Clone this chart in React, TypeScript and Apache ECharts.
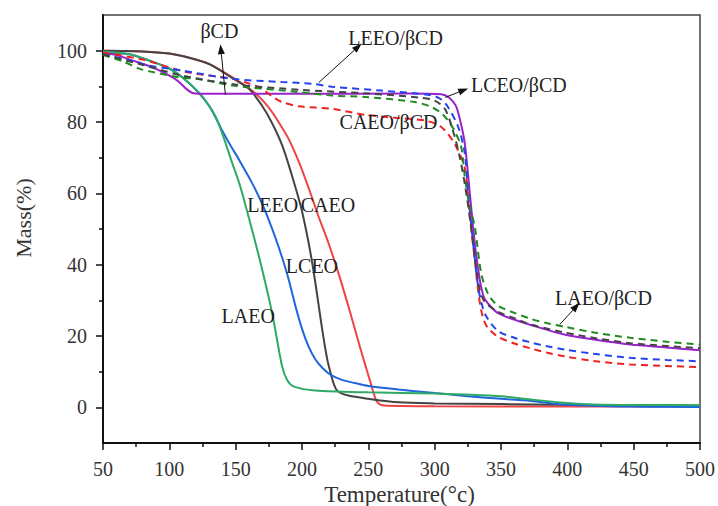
import React, { useEffect, useRef } from "react";
import * as echarts from "echarts";

// ---- data (Temperature °C, Mass %) ----
const caeo: number[][] = [[50,100],[80,99.8],[100,99.2],[115,98],[130,96.3],[147.5,92.5],[165,88],[175,84],[183,79.6],[190,75.2],[198,68.5],[205,61.5],[212,54],[220,46],[228,37],[236,27],[244,16.5],[250,9],[254,4],[257,1.3],[262,0.5],[300,0.3],[400,0.2],[500,0.2]];
const lceo: number[][] = [[50,100],[80,99.8],[100,99.2],[115,98],[130,96.2],[147.5,92.3],[160,89.3],[170,84.5],[177,80],[185,73.5],[192,65.5],[200,55],[207.75,40.4],[215.25,21.8],[219,13.5],[221.5,9.7],[224,6.5],[227,4.5],[235,3.3],[250,2.4],[272.75,1.4],[300,1.1],[350,0.9],[400,0.7],[500,0.5]];
const leeo: number[][] = [[50,99.5],[70,99],[85,97.2],[100,95],[110,92.5],[122.75,88],[130,84.5],[135,81.2],[140,77.5],[146,73.5],[152.75,69.3],[162.5,62.8],[170,57],[175,52.5],[180,47.5],[185,42],[190,35.8],[195,28.5],[200,22],[205,17],[210,13.5],[216,10.8],[222,9],[230,7.7],[240,6.8],[250,6],[272.75,5],[297.75,4.1],[322.75,3.2],[350,2.4],[372.5,1.8],[397.75,0.8],[447.5,0.2],[500,0.1]];
const laeo: number[][] = [[50,99.8],[70,99],[85,97.2],[100,95],[110,92.5],[122.75,88],[135,81.4],[147.5,68.4],[152.75,62.8],[157.75,56.2],[167.75,42],[177.5,26.4],[185,11.5],[189,7.5],[194,5.8],[210,4.7],[250,4.2],[300,3.9],[322.75,3.6],[350,3.1],[372.5,2.2],[397.75,1.3],[420,0.8],[460,0.65],[500,0.6]];
const bcd: number[][] = [[50,99.3],[60,98.8],[72.5,97.2],[80,96.3],[90,94.9],[102.5,92.5],[108,91],[112.75,89.3],[117,88.2],[122,87.9],[200,87.9],[280,88],[305,87.8],[311,86.8],[316,84.5],[319.5,80],[322.75,73.9],[326.5,60],[330.25,46],[334,35.8],[337,31],[340,29.2],[347.75,26.4],[360,24.6],[377.75,22.5],[397.75,20.4],[420,19],[447.5,17.6],[475,16.8],[500,16]];
const leeoBcd: number[][] = [[50,99],[70,97.3],[85,95.8],[110,94.4],[147.5,92.1],[185,91.2],[207.5,90.7],[222.5,89.9],[260,88.8],[297.5,87.5],[305,86.3],[310,84.2],[317.75,78.6],[322.75,71.1],[325.25,60],[329,46],[332.75,33.9],[335.5,29],[338.75,25.6],[347.75,21.4],[360,19.5],[372.5,18.2],[385,17.1],[397.75,16.2],[420,15],[447.5,13.9],[475,13.3],[500,12.9]];
const caeoBcd: number[][] = [[50,99.5],[80,97.5],[112.75,94],[147.5,92.1],[160,90.8],[170,89.3],[178,87],[185,85.6],[197.75,84.4],[222.5,83.7],[247.75,82],[270,81.2],[292.75,80.4],[305,78.6],[315,73.9],[322.75,67],[326,55],[330.25,41.3],[333,32],[335,27.4],[337,24.5],[340,22.3],[347.75,19.8],[360,17.9],[372.5,16.5],[385,15.3],[397.75,14.3],[420,13],[447.5,12],[475,11.6],[500,11.3]];
const laeoBcd: number[][] = [[50,98.8],[65,97],[77.75,94.9],[85,94.2],[107.75,92.5],[122.75,92],[147.5,90.2],[160,89.7],[197.75,88.4],[222.5,87.4],[247.75,87],[285,85.6],[297.5,84.2],[305,82.5],[310,80.4],[315,77.5],[320,73],[322.75,64.6],[326,57],[330.25,50.6],[335,37.7],[340,32],[345,29.4],[350,28],[360,26.5],[372.5,24.8],[385,23.6],[397.75,22.6],[420,21],[447.5,19.5],[475,18.4],[500,17.6]];
const lceoBcd: number[][] = [[50,99],[80,96],[110,93],[150,90.5],[200,89],[250,88],[290,86.8],[300,86],[308,83.5],[315,76],[319,70],[323,62],[327,52],[331,40],[334,33],[338,29.5],[347.75,26.8],[360,25],[372.5,23.2],[397.75,21],[422.75,19.3],[447.5,18],[475,17.2],[500,16.6]];

const yLabelValues = [0, 20, 40, 60, 80, 100];
const yMinorValues = [10, 30, 50, 70, 90];

// annotations: [text, T, M]
const labels: [string, number, number][] = [
  ["βCD", 137.75, 105.6],
  ["LEEO/βCD", 270.5, 103.6],
  ["LCEO/βCD", 363.5, 90.5],
  ["CAEO/βCD", 265.25, 79.9],
  ["LEEO", 177.9, 56.7],
  ["CAEO", 219.5, 56.7],
  ["LCEO", 207.5, 39.7],
  ["LAEO", 159.5, 25.7],
  ["LAEO/βCD", 427.25, 30.7],
];
// arrows: [fromT, fromM, toT, toM]
const arrows: number[][] = [
  [142.25, 87.7, 138.5, 101.8],
  [212.75, 91.1, 245, 102],
  [308, 86.9, 325.25, 89.4],
  [394.25, 23.2, 409.25, 29.3],
];

const FONT = "Liberation Serif";

export default function App() {
  const ref = useRef<HTMLDivElement>(null);
  useEffect(() => {
    if (!ref.current) return;
    const chart = echarts.init(ref.current, null, { renderer: "svg" });
    const mk = (name: string, data: number[][], color: string, dashed: boolean) => ({
      name,
      type: "line",
      data,
      showSymbol: false,
      symbol: "none",
      smooth: 0.3,
      lineStyle: { color, width: 2, type: dashed ? [7, 5] : "solid" },
      z: 3,
    });
    const option: any = {
      animation: false,
      backgroundColor: "#ffffff",
      grid: { left: 103, right: 16, top: 15, bottom: 63, show: true, borderColor: "#444", borderWidth: 1.5 },
      xAxis: {
        type: "value",
        min: 50,
        max: 500,
        interval: 50,
        axisLine: { show: true, onZero: false, lineStyle: { color: "#111", width: 2 } },
        axisTick: { show: true, inside: false, length: 7, lineStyle: { color: "#111", width: 1.5 } },
        minorTick: { show: true, splitNumber: 2, length: 4, lineStyle: { color: "#111", width: 1.5 } },
        splitLine: { show: false },
        axisLabel: { fontFamily: FONT, fontSize: 20, color: "#333", margin: 16 },
      },
      yAxis: [
        {
          type: "value",
          min: -10,
          max: 110,
          axisLine: { show: true, onZero: false, lineStyle: { color: "#111", width: 2 } },
          axisTick: { show: true, length: 7, customValues: yLabelValues, lineStyle: { color: "#111", width: 1.5 } },
          splitLine: { show: false },
          axisLabel: { fontFamily: FONT, fontSize: 20, color: "#333", margin: 16, customValues: yLabelValues },
        },
        {
          type: "value",
          min: -10,
          max: 110,
          position: "left",
          axisLine: { show: false, onZero: false },
          axisTick: { show: true, length: 4, customValues: yMinorValues, lineStyle: { color: "#111", width: 1.5 } },
          splitLine: { show: false },
          axisLabel: { show: false },
        },
      ],
      series: [
        mk("CAEO", caeo, "#ee4444", false),
        mk("LCEO", lceo, "#444444", false),
        mk("LEEO", leeo, "#1f66dd", false),
        mk("LAEO", laeo, "#2eaa66", false),
        mk("βCD", bcd, "#9922cc", false),
        mk("CAEO/βCD", caeoBcd, "#ee2222", true),
        mk("LEEO/βCD", leeoBcd, "#2244ee", true),
        mk("LAEO/βCD", laeoBcd, "#1f8a1f", true),
        mk("LCEO/βCD", lceoBcd, "#444444", true),
      ],
    };
    chart.setOption(option);

    const toPx = (t: number, m: number) => chart.convertToPixel({ gridIndex: 0 }, [t, m]) as number[];
    const g: any[] = [];
    labels.forEach(([txt, t, m]) => {
      const p = toPx(t, m);
      g.push({
        type: "text",
        x: p[0],
        y: p[1],
        z: 10,
        style: { text: txt, fontFamily: FONT, fontSize: 20, fill: "#222", align: "center", verticalAlign: "middle" },
      });
    });
    arrows.forEach(([t0, m0, t1, m1]) => {
      const a = toPx(t0, m0);
      const b = toPx(t1, m1);
      const dx = b[0] - a[0];
      const dy = b[1] - a[1];
      const len = Math.sqrt(dx * dx + dy * dy);
      const ux = dx / len;
      const uy = dy / len;
      const L = 10;
      const w = 3.5;
      const bx = b[0] - ux * L;
      const by = b[1] - uy * L;
      g.push({
        type: "line",
        z: 10,
        shape: { x1: a[0], y1: a[1], x2: bx, y2: by },
        style: { stroke: "#111", lineWidth: 1 },
      });
      g.push({
        type: "polygon",
        z: 10,
        shape: { points: [[b[0], b[1]], [bx - uy * w, by + ux * w], [bx + uy * w, by - ux * w]] },
        style: { fill: "#111" },
      });
    });
    g.push({
      type: "text",
      x: 23,
      y: 218,
      rotation: Math.PI / 2,
      style: { text: "Mass(%)", fontFamily: FONT, fontSize: 22, fill: "#333", align: "center", verticalAlign: "middle" },
    });
    const gx = toPx(275, -10);
    g.push({
      type: "text",
      x: gx[0] - 2,
      y: gx[1] + 51,
      style: { text: "Temperature(°c)", fontFamily: FONT, fontSize: 23, fill: "#333", align: "center", verticalAlign: "middle" },
    });
    chart.setOption({ graphic: g });
    return () => chart.dispose();
  }, []);
  return <div ref={ref} style={{ position: "fixed", left: 0, top: 0, width: 718, height: 506 }} />;
}
